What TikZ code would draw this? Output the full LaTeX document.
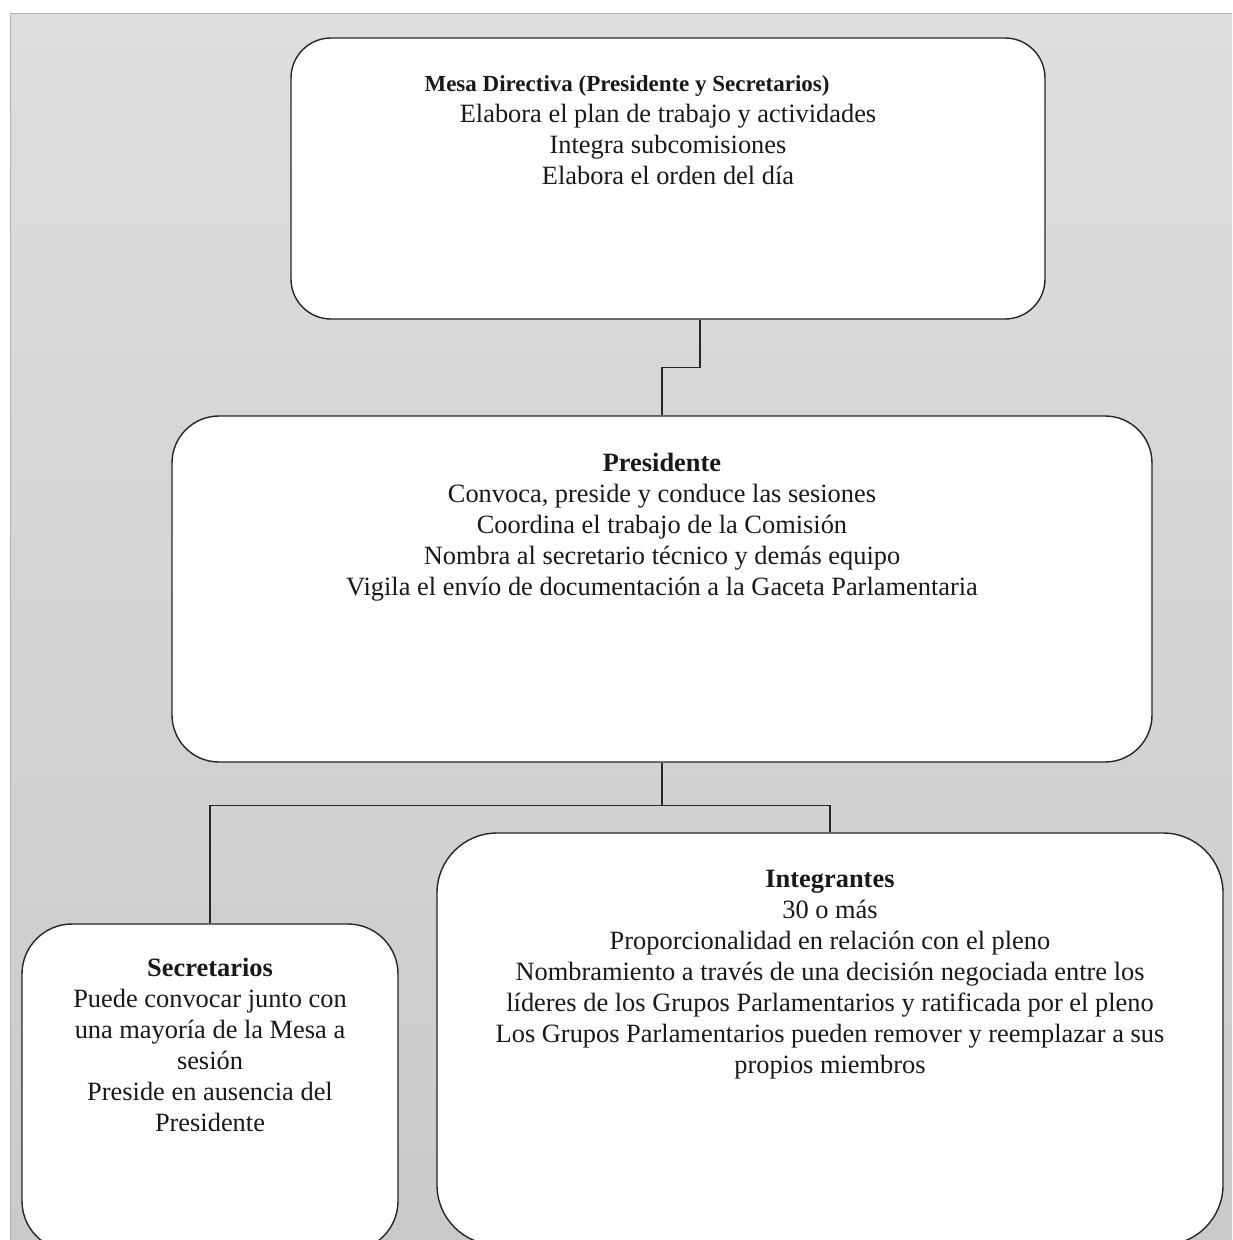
\documentclass[tikz,border=0pt]{standalone}
\usepackage{fontspec}
\setmainfont{Liberation Serif}
\begin{document}
\begin{tikzpicture}[x=1pt,y=-1pt,
  box/.style={draw=black!85, line width=1.4pt, fill=white, rectangle, inner sep=0pt},
  txt/.style={align=center, anchor=north, inner sep=0pt, font=\fontsize{26.4}{31}\selectfont, text=black!90},
  conn/.style={draw=black!85, line width=1.4pt}]
\useasboundingbox (0,0) rectangle (1232,1240);
\fill[white] (0,0) rectangle (1232,1240);
\shade[top color={rgb,255:red,222;green,222;blue,222}, bottom color={rgb,255:red,202;green,202;blue,202}] (10,13) rectangle (1232,1240);
\draw[gray!60, line width=1pt] (10,1240) -- (10,13) -- (1232,13);

\node[box, minimum width=754pt, minimum height=281pt, rounded corners=40pt] (mesa) at (668,178.5) {};
\node[box, minimum width=980pt, minimum height=346pt, rounded corners=47pt] (pres) at (662,589) {};
\node[box, minimum width=376pt, minimum height=327pt, rounded corners=50pt] (sec) at (210,1087.5) {};
\node[box, minimum width=786pt, minimum height=412pt, rounded corners=60pt] (int) at (830,1039) {};

\draw[conn] ([xshift=32pt]mesa.south) -- ++(0,48) -| (pres.north);
\draw[conn] (pres.south) -- ++(0,43) coordinate (j);
\draw[conn] (sec.north) |- (j);
\draw[conn] (int.north) |- (j);

\node[txt] (tmesa) at (668,75) {\textbf{\fontsize{23}{31}\selectfont Mesa Directiva (Presidente y Secretarios)}\hspace*{82pt}\\
Elabora el plan de trabajo y actividades\\
Integra subcomisiones\\
Elabora el orden del día};

\node[txt] (tpres) at (662,453) {\textbf{Presidente}\\
Convoca, preside y conduce las sesiones\\
Coordina el trabajo de la Comisión\\
Nombra al secretario técnico y demás equipo\\
Vigila el envío de documentación a la Gaceta Parlamentaria};

\node[txt] (tsec) at (210,958) {\textbf{Secretarios}\\
Puede convocar junto con\\
una mayoría de la Mesa a\\
sesión\\
Preside en ausencia del\\
Presidente};

\node[txt] (tint) at (830,870) {\textbf{Integrantes}\\
30 o más\\
Proporcionalidad en relación con el pleno\\
Nombramiento a través de una decisión negociada entre los\\
líderes de los Grupos Parlamentarios y ratificada por el pleno\\
Los Grupos Parlamentarios pueden remover y reemplazar a sus\\
propios miembros};
\end{tikzpicture}
\end{document}
